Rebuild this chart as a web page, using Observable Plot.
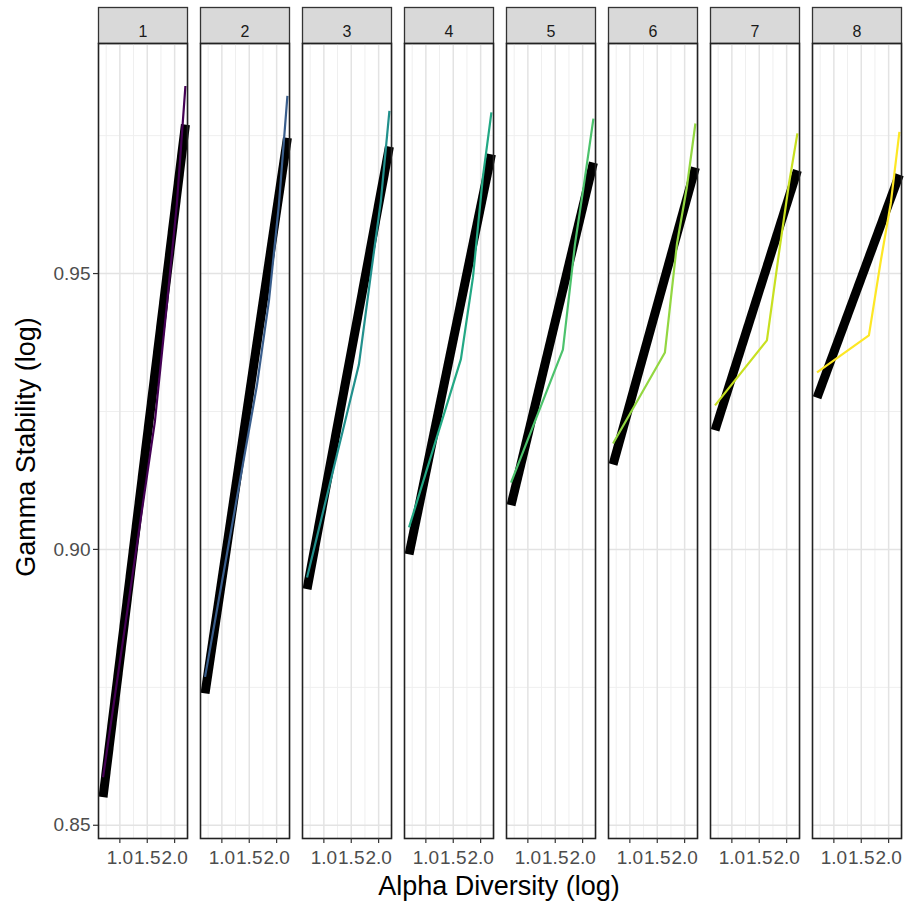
<!DOCTYPE html>
<html><head><meta charset="utf-8">
<script src="https://cdn.jsdelivr.net/npm/d3@7"></script>
<script src="https://cdn.jsdelivr.net/npm/@observablehq/plot@0.6"></script>
<style>
body{margin:0;background:#fff;font-family:"Liberation Sans",Arial,sans-serif;}
#wrap{position:relative;width:906px;height:903px;overflow:hidden;}
#ytitle{position:absolute;left:26px;top:447px;transform:translate(-50%,-50%) rotate(-90deg);font-size:27px;color:#000;white-space:nowrap;line-height:1;}
#xtitle{position:absolute;left:499px;top:886px;transform:translate(-50%,-50%);font-size:27px;color:#000;white-space:nowrap;line-height:1;}
</style></head><body>
<div id="wrap"><div id="chart"></div><div id="ytitle">Gamma Stability (log)</div><div id="xtitle">Alpha Diversity (log)</div></div>
<script>
// ---- data ----
const panels = [1, 2, 3, 4, 5, 6, 7, 8];
const colors = ["#440154", "#3A5E8C", "#21908C", "#22A884", "#4CC26C", "#93D741", "#C8E020", "#FDE725"];
// thick black fitted line: endpoints
const fitX = [0.693, 2.197];
const fitStart = [0.8551, 0.8739, 0.8928, 0.8991, 0.9080, 0.9154, 0.9216, 0.9275];
const fitEnd   = [0.9770, 0.9746, 0.9730, 0.9716, 0.9701, 0.9692, 0.9687, 0.9679];
// thin coloured observed line
const obsX = [0.693, 1.64, 1.86, 2.04, 2.197];
const obs1 = [0.8587, 0.9232, 0.9445, 0.9625, 0.9840];
const obs2 = [0.8769, 0.9297, 0.9451, 0.9623, 0.9822];
const obs3 = [0.8949, 0.9335, 0.9500, 0.9631, 0.9795];
const obs4 = [0.9040, 0.9345, 0.9493, 0.9674, 0.9792];
const obs5 = [0.9121, 0.9362, 0.9553, 0.9672, 0.9781];
const obs6 = [0.9192, 0.9357, 0.9554, 0.9656, 0.9772];
const obs7 = [0.9261, 0.9379, 0.9537, 0.9661, 0.9754];
const obs8 = [0.9321, 0.9388, 0.9525, 0.9628, 0.9757];
const xTicks = [1.0, 1.5, 2.0];
const xMinor = [0.75, 1.25, 1.75, 2.25];
const yTicks = [0.85, 0.90, 0.95];
const yMinor = [0.875, 0.925, 0.975];

const obsSeries = [obs1, obs2, obs3, obs4, obs5, obs6, obs7, obs8];
const fitRows = panels.flatMap((p, i) => [
  {panel: p, x: fitX[0], y: fitStart[i]},
  {panel: p, x: fitX[1], y: fitEnd[i]}
]);
const obsRows = panels.flatMap((p, i) => obsX.map((x, j) => ({panel: p, x, y: obsSeries[i][j]})));

const W = 906, H = 903, MT = 43, MB = 65, ML = 96, MR = 3;
const FONT = "'Liberation Sans', Arial, sans-serif";

const chart = Plot.plot({
  width: W, height: H,
  marginTop: MT, marginBottom: MB, marginLeft: ML, marginRight: MR,
  style: {fontFamily: FONT, background: "white", overflow: "visible"},
  fx: {domain: panels, paddingInner: 0.13, paddingOuter: 0, axis: null, label: null},
  x: {domain: [0.61, 2.235], label: null},
  y: {domain: [0.8476, 0.9917], label: null},
  color: {type: "ordinal", domain: panels, range: colors},
  marks: [
    // strip background
    Plot.frame({fill: "#D9D9D9", stroke: "#333333", strokeWidth: 1.3, insetTop: -36, insetBottom: H - MT - MB}),
    Plot.text(panels, {fx: d => d, text: d => String(d), frameAnchor: "top", dy: -18, fontSize: 16, fill: "#1A1A1A"}),
    // grid
    Plot.gridY({ticks: yMinor, stroke: "#EFEFEF", strokeOpacity: 1, strokeWidth: 1}),
    Plot.gridX({ticks: xMinor, stroke: "#EFEFEF", strokeOpacity: 1, strokeWidth: 1}),
    Plot.gridY({ticks: yTicks, stroke: "#E3E3E3", strokeOpacity: 1, strokeWidth: 1.5}),
    Plot.gridX({ticks: xTicks, stroke: "#E3E3E3", strokeOpacity: 1, strokeWidth: 1.5}),
    // lines
    Plot.line(fitRows, {fx: "panel", x: "x", y: "y", z: "panel", stroke: "black", strokeWidth: 9, strokeLinecap: "butt"}),
    Plot.line(obsRows, {fx: "panel", x: "x", y: "y", z: "panel", stroke: "panel", strokeWidth: 2.2, strokeLinecap: "butt"}),
    // panel border
    Plot.frame({stroke: "#222222", strokeWidth: 1.6}),
    // axes
    Plot.axisY({ticks: yTicks, tickFormat: d3.format(".2f"), tickSize: 5, tickPadding: 3,
      fontSize: 19, fill: "#4D4D4D", stroke: "#333333", strokeWidth: 1.2, label: null}),
    Plot.axisX({ticks: xTicks, tickFormat: d3.format(".1f"), tickSize: 5, tickPadding: 7,
      fontSize: 19, fill: "#4D4D4D", stroke: "#333333", strokeWidth: 1.2, label: null})
  ]
});
document.getElementById("chart").appendChild(chart);
</script>
</body></html>
